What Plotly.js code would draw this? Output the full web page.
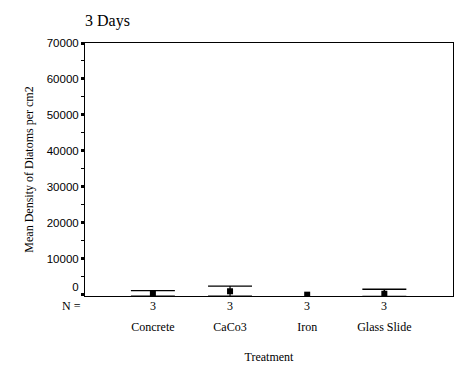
<!DOCTYPE html>
<html>
<head>
<meta charset="utf-8">
<script src="https://cdn.plot.ly/plotly-3.0.1.min.js"></script>
<style>html,body{margin:0;padding:0;background:#fff;}#chart{width:472px;height:377px;}</style>
</head>
<body>
<div id="chart"></div>
<script>
const categories = ["Concrete", "CaCo3", "Iron", "Glass Slide"];
const means = [200, 950, 0, 250];
const errPlus = [950, 1400, 0, 1250];
const errMinus = [570, 1320, 0, 750];
const nCounts = [3, 3, 3, 3];
const yTickVals = [0, 10000, 20000, 30000, 40000, 50000, 60000, 70000];
const yTickText = ["0<br> ", "10000", "20000", "30000", "40000", "50000", "60000", "70000"];

const font = "Liberation Serif";
const sans = "Liberation Sans";

function pick(arr, idx) { return idx.map(i => arr[i]); }

function makeTrace(idx, withErr, clip, thick) {
  const t = {
    type: 'scatter', mode: 'markers',
    x: pick(categories, idx), y: pick(means, idx),
    marker: {symbol: 'square', size: 6, color: '#000'},
    cliponaxis: clip, showlegend: false, hoverinfo: 'skip'
  };
  if (withErr) {
    t.error_y = {type: 'data', symmetric: false,
      array: pick(errPlus, idx), arrayminus: pick(errMinus, idx),
      color: '#000', thickness: thick, width: 22};
  }
  return t;
}

const traces = [
  makeTrace([0, 1], true, true, 1.2),   // Concrete, CaCo3
  makeTrace([2], false, true, 1.2),     // Iron (no visible spread)
  makeTrace([3], true, false, 1.6)      // Glass Slide
];

const annotations = [{
  xref: 'paper', yref: 'paper', x: -0.005, y: -0.003, xanchor: 'right', yanchor: 'top',
  text: 'N =', showarrow: false, font: {family: font, size: 12, color: '#000'}
}];
categories.forEach((c, i) => {
  annotations.push({
    xref: 'x', yref: 'paper', x: c, y: -0.003, xanchor: 'center', yanchor: 'top',
    text: String(nCounts[i]), showarrow: false, font: {family: font, size: 12, color: '#000'}
  });
});

const layout = {
  width: 472, height: 377,
  margin: {l: 85, r: 19, t: 43, b: 81, pad: 0},
  paper_bgcolor: '#fff', plot_bgcolor: '#fff',
  title: {text: '3 Days', x: 0, xref: 'paper', xanchor: 'left',
    y: 1 - 20/377, yref: 'container', yanchor: 'middle',
    font: {family: font, size: 16, color: '#000'}},
  xaxis: {
    type: 'category', categoryorder: 'array', categoryarray: categories,
    range: [-0.88, 3.89], showgrid: false, zeroline: false,
    showline: true, linecolor: '#000', linewidth: 1, mirror: true,
    ticks: '', ticklabelstandoff: 20,
    tickfont: {family: font, size: 12, color: '#000'},
    title: {text: 'Treatment', standoff: 19, font: {family: font, size: 12, color: '#000'}},
    automargin: false
  },
  yaxis: {
    range: [-370, 70000], tickmode: 'array', tickvals: yTickVals, ticktext: yTickText,
    showgrid: false, zeroline: false,
    showline: true, linecolor: '#000', linewidth: 1, mirror: true,
    ticks: 'outside', ticklen: 3, tickwidth: 3, tickcolor: '#000',
    minor: {tickmode: 'linear', tick0: 0, dtick: 5000, ticks: 'outside', ticklen: 3, tickwidth: 1, tickcolor: '#000'},
    tickfont: {family: sans, size: 11.5, color: '#000'},
    title: {text: 'Mean Density of Diatoms per cm2', standoff: 10, font: {family: font, size: 12, color: '#000'}},
    automargin: false
  },
  annotations: annotations
};

Plotly.newPlot('chart', traces, layout, {staticPlot: true, displayModeBar: false});
</script>
</body>
</html>
